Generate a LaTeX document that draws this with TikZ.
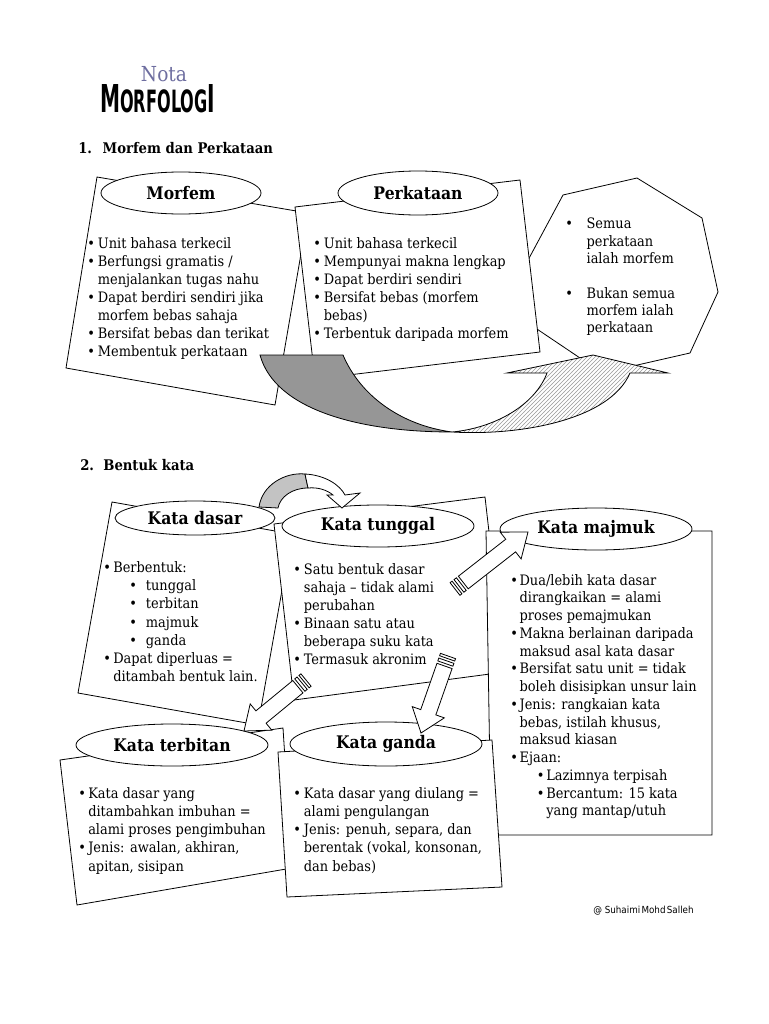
\documentclass[tikz,border=0pt]{standalone}
\usepackage{fontspec}
\usepackage{graphicx}
\setmainfont[BoldFont={DejaVu Serif Condensed Bold}]{DejaVu Serif Condensed}
\newfontfamily\credfont{DejaVu Sans Condensed}
\newfontfamily\titlefont{DejaVu Sans Condensed Bold}
\usetikzlibrary{shapes.geometric,calc,patterns}
\definecolor{notacol}{RGB}{110,110,160}
\definecolor{darkarrow}{RGB}{150,150,150}
\definecolor{lightarrow}{RGB}{195,195,195}
\newcommand\mybul[1][8pt]{\makebox[#1][l]{\textbullet}}
\newcommand\myind[1][8pt]{\hspace*{#1}}
\newcommand\striparrow[2]{%
  \coordinate (sA) at (#1);
  \coordinate (sB) at (#2);
  \coordinate (sC) at ($(sA)!7.9pt!(sB)$);
  \coordinate (sD) at ($(sB)!16.5pt!(sA)$);
  \coordinate (sb1) at ($(sA)!1.9pt!(sB)$);
  \coordinate (sb2) at ($(sA)!3.75pt!(sB)$);
  \coordinate (sb3) at ($(sA)!6pt!(sB)$);
  \draw[arrowpart] ($(sA)!6pt!90:(sB)$) -- ($(sA)!6pt!-90:(sB)$) -- ($(sb1)!6pt!-90:(sB)$) -- ($(sb1)!6pt!90:(sB)$) -- cycle;
  \draw[arrowpart] ($(sb2)!6pt!90:(sB)$) -- ($(sb2)!6pt!-90:(sB)$) -- ($(sb3)!6pt!-90:(sB)$) -- ($(sb3)!6pt!90:(sB)$) -- cycle;
  \draw[arrowpart] ($(sC)!6pt!90:(sB)$) -- ($(sD)!6pt!90:(sB)$) -- ($(sD)!12.75pt!90:(sB)$) -- (sB) -- ($(sD)!12.75pt!-90:(sB)$) -- ($(sD)!6pt!-90:(sB)$) -- ($(sC)!6pt!-90:(sB)$) -- cycle;
}
\begin{document}
\begin{tikzpicture}[x=0.75pt,y=-0.75pt,
  box/.style={draw, fill=white, line width=0.6pt, line join=miter},
  lbl/.style={ellipse, draw, fill=white, line width=0.6pt, inner sep=0pt, font=\fontsize{13}{15}\selectfont\bfseries},
  txt/.style={anchor=north west, inner sep=0pt, align=left, font=\fontsize{10.8}{13.5}\selectfont},
  arrowpart/.style={draw, fill=white, line width=0.6pt, line join=miter},
  head/.style={anchor=base west, inner sep=0pt, font=\bfseries\fontsize{11}{12}\selectfont}]
\useasboundingbox[fill=white] (0,0) rectangle (768,1024);

% ---------- title ----------
\node[anchor=base, inner sep=0pt, text=notacol, font=\fontsize{15.5}{15.5}\selectfont] (nota) at (164,81) {Nota};
\node[anchor=base west, inner sep=0pt] (morfologi) at (100,112)
  {\resizebox{86pt}{21pt}{\titlefont\fontsize{20}{20}\selectfont M\fontsize{16}{16}\selectfont ORFOLOG\fontsize{20}{20}\selectfont I}};

\node[head] (h1) at (78,153) {1.\hspace{8pt}Morfem dan Perkataan};
\node[head] (h2) at (80,470) {2.\hspace{7pt}Bentuk kata};

% ---------- section 1 ----------
\draw[box] (637,178) -- (702,218) -- (718,292) -- (690,353) -- (633,366) -- (580,358) -- (528,323) -- (527,262) -- (563,195) -- cycle;
\node[txt, font=\fontsize{10.8}{13}\selectfont] (oct) at (565,218)
  {\mybul[16pt]Semua\\ \myind[16pt]perkataan\\ \myind[16pt]ialah morfem\\ \strut\\ \mybul[16pt]Bukan semua\\ \myind[16pt]morfem ialah\\ \myind[16pt]perkataan};

\draw[box] (97,177) -- (308,213) -- (275,405) -- (66,368) -- cycle;
\node[lbl, minimum width=120pt, minimum height=31.5pt] (morfem) at (181,193) {Morfem};
\node[txt] (morfemtxt) at (87,237.5)
  {\mybul Unit bahasa terkecil\\ \mybul Berfungsi gramatis /\\ \myind menjalankan tugas nahu\\ \mybul Dapat berdiri sendiri jika\\ \myind morfem bebas sahaja\\ \mybul Bersifat bebas dan terikat\\ \mybul Membentuk perkataan};

\draw[box] (295,207) -- (520,180) -- (540,352) -- (315,379) -- cycle;
\node[lbl, minimum width=120pt, minimum height=33pt] (perkataan) at (418,193) {Perkataan};
\node[txt] (perktxt) at (313,237.5)
  {\mybul Unit bahasa terkecil\\ \mybul Mempunyai makna lengkap\\ \mybul Dapat berdiri sendiri\\ \mybul Bersifat bebas (morfem\\ \myind bebas)\\ \mybul Terbentuk daripada morfem};

% big curved arrow
\draw[fill=darkarrow, line width=0.6pt] (260,355) -- (343,355) .. controls (360,395) and (400,425) .. (452,432)
  .. controls (360,432) and (275,410) .. (260,355) -- cycle;
\draw[preaction={fill=white}, pattern=north east lines, pattern color=gray!80, line width=0.6pt, line join=miter]
  (452,432) .. controls (520,436) and (610,420) .. (630,373) -- (668,373) -- (593,355) -- (507,373) -- (547,373)
  .. controls (535,405) and (495,428) .. (452,432) -- cycle;

% ---------- section 2 ----------
\draw[box] (112,502) -- (292,534) -- (258,725) -- (78,693) -- cycle;
\node[txt, font=\fontsize{10.8}{13.7}\selectfont] (dasartxt) at (103,561)
  {\mybul[7.5pt]Berbentuk:\\
   \hspace*{19.5pt}\makebox[12.5pt][l]{\textbullet}tunggal\\
   \hspace*{19.5pt}\makebox[12.5pt][l]{\textbullet}terbitan\\
   \hspace*{19.5pt}\makebox[12.5pt][l]{\textbullet}majmuk\\
   \hspace*{19.5pt}\makebox[12.5pt][l]{\textbullet}ganda\\
   \mybul[7.5pt]Dapat diperluas =\\ \myind[7.5pt]ditambah bentuk lain.};

\draw[box] (274,524) -- (485,497) -- (505,672) -- (294,700) -- cycle;
\node[lbl, minimum width=120pt, minimum height=25.5pt] (dasar) at (195,518) {Kata dasar};
\node[lbl, minimum width=144pt, minimum height=31.5pt] (tunggal) at (378,526) {Kata tunggal};
\node[txt] (tunggaltxt) at (293,563)
  {\mybul Satu bentuk dasar\\ \myind sahaja -- tidak alami\\ \myind perubahan\\ \mybul Binaan satu atau\\ \myind beberapa suku kata\\ \mybul Termasuk akronim};

\draw[box] (486,531) -- (712,531) -- (712,835) -- (491,835) -- cycle;
\node[lbl, minimum width=144pt, minimum height=31.5pt] (majmuk) at (596,529) {Kata majmuk};
\node[txt, font=\fontsize{10.8}{13.3}\selectfont] (majmuktxt) at (510,574)
  {\mybul[7pt]Dua/lebih kata dasar\\ \myind[7pt]dirangkaikan = alami\\ \myind[7pt]proses pemajmukan\\
   \mybul[7pt]Makna berlainan daripada\\ \myind[7pt]maksud asal kata dasar\\
   \mybul[7pt]Bersifat satu unit = tidak\\ \myind[7pt]boleh disisipkan unsur lain\\
   \mybul[7pt]Jenis: rangkaian kata\\ \myind[7pt]bebas, istilah khusus,\\ \myind[7pt]maksud kiasan\\
   \mybul[7pt]Ejaan:\\
   \hspace*{20pt}\makebox[7pt][l]{\textbullet}Lazimnya terpisah\\
   \hspace*{20pt}\makebox[7pt][l]{\textbullet}Bercantum: 15 kata\\
   \hspace*{27pt}yang mantap/utuh};

\draw[box] (60,760) -- (283,728) -- (292,868) -- (77,905) -- cycle;
\node[lbl, minimum width=144pt, minimum height=31.5pt] (terbitan) at (172,745) {Kata terbitan};
\node[txt, font=\fontsize{10.8}{13.65}\selectfont] (terbitantxt) at (78,787)
  {\mybul[7.5pt]Kata dasar yang\\ \myind[7.5pt]ditambahkan imbuhan =\\ \myind[7.5pt]alami proses pengimbuhan\\ \mybul[7.5pt]Jenis: awalan, akhiran,\\ \myind[7.5pt]apitan, sisipan};

\draw[box] (278,752) -- (492,740) -- (502,887) -- (287,897) -- cycle;
\node[lbl, minimum width=144pt, minimum height=33pt] (ganda) at (386,744) {Kata ganda};
\node[txt, font=\fontsize{10.8}{13.65}\selectfont] (gandatxt) at (293,787)
  {\mybul Kata dasar yang diulang =\\ \myind alami pengulangan\\ \mybul Jenis: penuh, separa, dan\\ \myind berentak (vokal, konsonan,\\ \myind dan bebas)};

% small curved arrow dasar -> tunggal
\draw[fill=lightarrow, line width=0.6pt, line join=miter] (259,507) .. controls (262,485) and (285,472) .. (305,474)
  -- (308,488) .. controls (292,488) and (280,497) .. (278,508) -- cycle;
\draw[arrowpart] (305,474) .. controls (325,475) and (340,485) .. (345,495) -- (360,493) -- (342,508) -- (327,495) -- (333,495)
  .. controls (327,490) and (318,487) .. (308,488) -- cycle;

% striped arrows
\coordinate (tA) at (455,589);
\coordinate (hA) at (528,532);
\striparrow{tA}{hA}
\coordinate (tB) at (306,680);
\coordinate (hB) at (244,731);
\striparrow{tB}{hB}
\coordinate (tC) at (448,656);
\coordinate (hC) at (421,733);
\striparrow{tC}{hC}

\node[anchor=west, inner sep=0pt, font=\credfont\fontsize{7.3}{8}\selectfont] (credit) at (593,911)
  {@ {\spaceskip=1pt Suhaimi Mohd Salleh}};
\end{tikzpicture}
\end{document}
